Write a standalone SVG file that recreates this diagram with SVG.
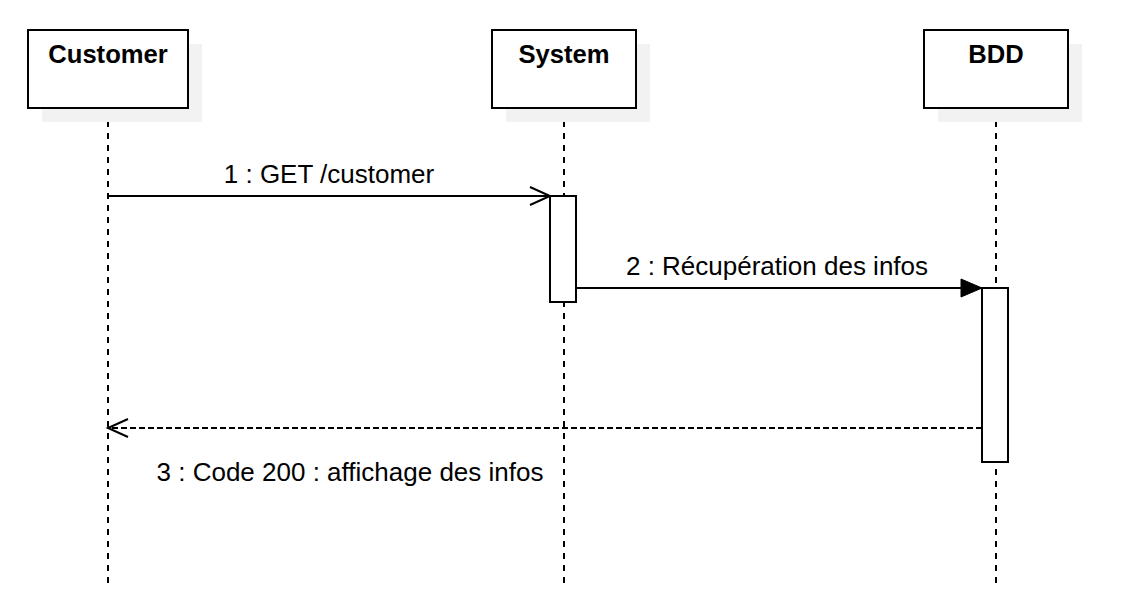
<svg xmlns="http://www.w3.org/2000/svg" width="1132" height="610" viewBox="0 0 1132 610">
<defs>
<style>
.shadow{fill:#f2f2f2;stroke:none}
.box{fill:#ffffff;stroke:#000000;stroke-width:2}
.title{font-family:"Liberation Sans",Arial,sans-serif;font-size:25.6px;font-weight:bold;fill:#000000;text-anchor:middle}
.life{stroke:#000000;stroke-width:2;stroke-dasharray:6 6;fill:none}
.act{fill:#ffffff;stroke:#000000;stroke-width:2}
.msg{stroke:#000000;stroke-width:2;fill:none}
.dash{stroke-dasharray:6 3}
.label{font-family:"Liberation Sans",Arial,sans-serif;font-size:26px;fill:#000000;text-anchor:middle}
</style>
<marker id="open" markerUnits="userSpaceOnUse" markerWidth="24" markerHeight="22" refX="21" refY="10" orient="auto">
<path d="M1,1 L21,10 L1,19" fill="none" stroke="#000000" stroke-width="2"/>
</marker>
<marker id="block" markerUnits="userSpaceOnUse" markerWidth="24" markerHeight="22" refX="22" refY="10" orient="auto">
<path d="M1,1 L22,10 L1,19 Z" fill="#000000" stroke="#000000" stroke-width="1"/>
</marker>
</defs>
<g id="lifelines">
<line class="life" x1="108" y1="109" x2="108" y2="584"/>
<line class="life" x1="564" y1="109" x2="564" y2="584"/>
<line class="life" x1="996" y1="109" x2="996" y2="584"/>
</g>
<g id="customer">
<rect class="shadow" x="42" y="44" width="160" height="78"/>
<rect class="box" x="28" y="30" width="160" height="78"/>
<text class="title" x="108" y="63">Customer</text>
</g>
<g id="system">
<rect class="shadow" x="506" y="44" width="144" height="78"/>
<rect class="box" x="492" y="30" width="144" height="78"/>
<text class="title" x="564" y="63">System</text>
</g>
<g id="bdd">
<rect class="shadow" x="938" y="44" width="144" height="78"/>
<rect class="box" x="924" y="30" width="144" height="78"/>
<text class="title" x="996" y="63">BDD</text>
</g>
<g id="system-activation">
<rect class="act" x="550" y="196" width="26" height="106"/>
</g>
<g id="bdd-activation">
<rect class="act" x="982" y="288" width="26" height="174"/>
</g>
<g id="connectors">
<line class="msg" x1="108" y1="196" x2="550" y2="196" marker-end="url(#open)"/>
<text class="label" x="329" y="183">1 : GET /customer</text>
<line class="msg" x1="576" y1="288" x2="982" y2="288" marker-end="url(#block)"/>
<text class="label" x="777" y="275">2 : Récupération des infos</text>
<line class="msg dash" x1="982" y1="428" x2="108" y2="428" marker-end="url(#open)"/>
<text class="label" x="350" y="481">3 : Code 200 : affichage des infos</text>
</g>
</svg>
